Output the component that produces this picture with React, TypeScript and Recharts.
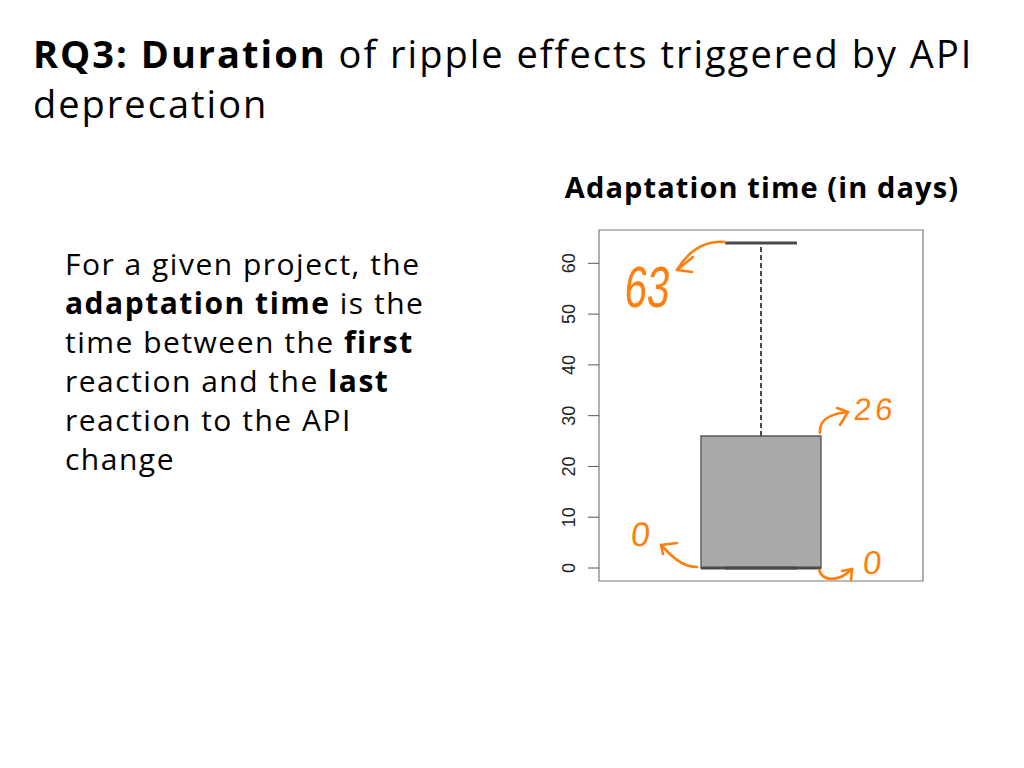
import React from "react";
import {
  ComposedChart,
  XAxis,
  YAxis,
  ReferenceArea,
  ReferenceLine,
  ReferenceDot,
} from "recharts";

// Five-number summary of the adaptation time (days)
const statNames = ["min", "q1", "median", "q3", "max"];
const statValues = [0, 0, 0, 26, 64];
const yTicks = [0, 10, 20, 30, 40, 50, 60];
// hand-written notes on the slide: text, and the stat each one points at
const noteTexts = ["63", "26", "0", "0"];
const noteStats = ["max", "q3", "q1", "min"];

const stat = (name: string) => statValues[statNames.indexOf(name)];

const ORANGE = "#ff7f0e";
const DARK = "#4a4a4a";
const FONT = "'Open Sans', 'DejaVu Sans', sans-serif";

// plot domain like R's boxplot (4% padding)
const X_DOMAIN: [number, number] = [0.46, 1.54];
const Y_DOMAIN: [number, number] = [-2.56, 66.56];
const CENTER = 1;
const BOX_HALF = 0.2;
const STAPLE_HALF = 0.12;

function RotTick({ x, y, payload }: any) {
  return (
    <text
      x={x}
      y={y}
      transform={`rotate(-90 ${x} ${y})`}
      textAnchor="middle"
      fontSize={18}
      fontFamily="'Liberation Sans', Arial, sans-serif"
      fill="#222"
    >
      {payload.value}
    </text>
  );
}

function HandText({ x, y, size, sx = 1, spacing = 0, children }: any) {
  return (
    <text
      transform={`translate(${x} ${y}) skewX(-6) scale(${sx} 1)`}
      fontSize={size}
      fontFamily="'Liberation Sans', Arial, sans-serif"
      letterSpacing={spacing}
      fill={ORANGE}
    >
      {children}
    </text>
  );
}

const arrowStyle = {
  fill: "none",
  stroke: ORANGE,
  strokeWidth: 2.6,
  strokeLinecap: "round" as const,
  strokeLinejoin: "round" as const,
};

// each shape is drawn relative to the point the note refers to
const noteShapes: Record<string, (cx: number, cy: number, t: string) => React.ReactElement> = {
  max: (cx, cy, t) => (
    <g>
      <path d={`M ${cx} ${cy - 1} C ${cx - 22} ${cy - 3}, ${cx - 38} ${cy + 10}, ${cx - 48} ${cy + 27}`} {...arrowStyle} />
      <path d={`M ${cx - 32} ${cy + 14} L ${cx - 48} ${cy + 27} L ${cx - 33} ${cy + 29}`} {...arrowStyle} />
      <HandText x={cx - 102} y={cy + 64} size={58} sx={0.7}>{t}</HandText>
    </g>
  ),
  q3: (cx, cy, t) => (
    <g>
      <path d={`M ${cx - 1} ${cy - 3} C ${cx - 2} ${cy - 15}, ${cx + 6} ${cy - 22}, ${cx + 27} ${cy - 24}`} {...arrowStyle} />
      <path d={`M ${cx + 16} ${cy - 28} L ${cx + 27} ${cy - 24} L ${cx + 19} ${cy - 11}`} {...arrowStyle} />
      <HandText x={cx + 32} y={cy - 16} size={31} spacing={4}>{t}</HandText>
    </g>
  ),
  q1: (cx, cy, t) => (
    <g>
      <path d={`M ${cx - 4} ${cy - 1} C ${cx - 18} ${cy - 1}, ${cx - 28} ${cy - 10}, ${cx - 40} ${cy - 23}`} {...arrowStyle} />
      <path d={`M ${cx - 24} ${cy - 25} L ${cx - 40} ${cy - 23} L ${cx - 38} ${cy - 14}`} {...arrowStyle} />
      <HandText x={cx - 71} y={cy - 22} size={34}>{t}</HandText>
    </g>
  ),
  min: (cx, cy, t) => (
    <g>
      <path d={`M ${cx - 2} ${cy + 2} C ${cx + 2} ${cy + 14}, ${cx + 18} ${cy + 14}, ${cx + 31} ${cy + 1}`} {...arrowStyle} />
      <path d={`M ${cx + 21} ${cy + 3} L ${cx + 31} ${cy + 1} L ${cx + 30} ${cy + 12}`} {...arrowStyle} />
      <HandText x={cx + 41} y={cy + 6} size={33}>{t}</HandText>
    </g>
  ),
};

// x position (data units) each note's arrow starts from
const noteX: Record<string, number> = {
  max: CENTER - STAPLE_HALF,
  q3: CENTER + BOX_HALF,
  q1: CENTER - BOX_HALF,
  min: CENTER + BOX_HALF,
};

export default function App() {
  const lo = stat("min");
  const q1 = stat("q1");
  const med = stat("median");
  const q3 = stat("q3");
  const hi = stat("max");

  return (
    <div
      style={{
        position: "absolute",
        left: 0,
        top: 0,
        width: 1024,
        height: 768,
        background: "#fff",
        fontFamily: FONT,
        color: "#000",
        overflow: "hidden",
      }}
    >
      <div
        style={{
          position: "absolute",
          left: 33,
          top: 28,
          fontSize: 38,
          lineHeight: "50px",
          letterSpacing: 2,
          whiteSpace: "nowrap",
        }}
      >
        <b>RQ3: Duration</b> of ripple effects triggered by API
        <br />
        deprecation
      </div>

      <div
        style={{
          position: "absolute",
          left: 65,
          top: 244,
          fontSize: 30,
          lineHeight: "39px",
          letterSpacing: 1.5,
          whiteSpace: "nowrap",
        }}
      >
        For a given project, the
        <br />
        <b>adaptation time</b> is the
        <br />
        time between the <b>first</b>
        <br />
        reaction and the <b>last</b>
        <br />
        reaction to the API
        <br />
        change
      </div>

      <div
        style={{
          position: "absolute",
          left: 562,
          top: 167,
          width: 400,
          textAlign: "center",
          fontSize: 29,
          fontWeight: 700,
          letterSpacing: 1.1,
          whiteSpace: "nowrap",
        }}
      >
        Adaptation time (in days)
      </div>

      <div style={{ position: "absolute", left: 540, top: 220 }}>
        <ComposedChart
          width={400}
          height={380}
          data={[{ x: CENTER, y: med }]}
          margin={{ top: 10, right: 17, bottom: 19, left: 0 }}
        >
          <XAxis type="number" dataKey="x" domain={X_DOMAIN} hide allowDataOverflow />
          <YAxis
            type="number"
            domain={Y_DOMAIN}
            ticks={yTicks}
            width={59}
            axisLine={false}
            tickLine={{ stroke: "#555" }}
            tickSize={11}
            tickMargin={13}
            tick={<RotTick />}
            allowDataOverflow
            interval={0}
          />
          {/* plot frame */}
          <ReferenceArea
            x1={X_DOMAIN[0]}
            x2={X_DOMAIN[1]}
            y1={Y_DOMAIN[0]}
            y2={Y_DOMAIN[1]}
            fill="none"
            fillOpacity={0}
            stroke="#7a7a7a"
            strokeWidth={1.2}
          />
          {/* whisker */}
          <ReferenceLine
            segment={[{ x: CENTER, y: q3 }, { x: CENTER, y: hi }]}
            stroke={DARK}
            strokeWidth={2}
            strokeDasharray="5 3"
          />
          <ReferenceLine
            segment={[{ x: CENTER - STAPLE_HALF, y: hi }, { x: CENTER + STAPLE_HALF, y: hi }]}
            stroke={DARK}
            strokeWidth={3}
          />
          {/* box */}
          <ReferenceArea
            x1={CENTER - BOX_HALF}
            x2={CENTER + BOX_HALF}
            y1={q1}
            y2={q3}
            fill="#a9a9a9"
            fillOpacity={1}
            stroke="#5a5a5a"
            strokeWidth={1.4}
          />
          <ReferenceLine
            segment={[{ x: CENTER - STAPLE_HALF, y: lo }, { x: CENTER + STAPLE_HALF, y: lo }]}
            stroke="#555"
            strokeWidth={3}
          />
          <ReferenceLine
            segment={[{ x: CENTER - BOX_HALF, y: med }, { x: CENTER + BOX_HALF, y: med }]}
            stroke={DARK}
            strokeWidth={3}
          />
          {noteTexts.map((t, i) => {
            const key = noteStats[i];
            return (
              <ReferenceDot
                key={key + i}
                x={noteX[key]}
                y={stat(key)}
                r={1}
                shape={(p: any) => noteShapes[key](p.cx, p.cy, t)}
              />
            );
          })}
        </ComposedChart>
      </div>
    </div>
  );
}
